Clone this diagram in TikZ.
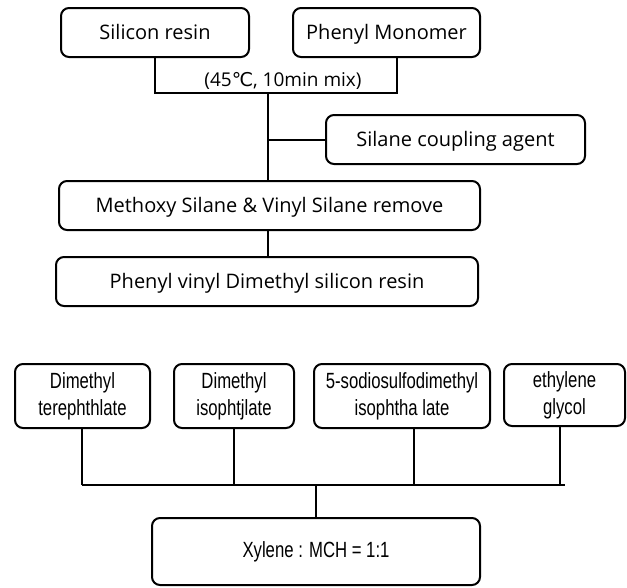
\documentclass[tikz,border=0pt]{standalone}
\usepackage{fontspec}
\setmainfont{Open Sans}
\newfontfamily\symfont{DejaVu Sans}
\newfontfamily\narrowfont[FakeStretch=0.76]{Liberation Sans}
\begin{document}
\begin{tikzpicture}[x=1pt,y=-1pt,line width=2pt,
  box/.style={draw,rounded corners=8pt,inner sep=0pt,align=center,
    text height=16pt,text depth=2pt,
    font=\fontsize{20}{24}\selectfont},
  nbox/.style={draw,rounded corners=8pt,inner sep=0pt,align=center,minimum height=64pt,
    font=\narrowfont\fontsize{22}{27}\selectfont},
  lbl/.style={inner sep=0pt,text height=16pt,text depth=2pt,font=\fontsize{19}{22}\selectfont}]
\useasboundingbox (0,0) rectangle (627,587);
% top part
\node[box,minimum width=188pt,minimum height=49pt] (sr) at (155,32.5) {Silicon resin};
\node[box,minimum width=187pt,minimum height=49pt] (pm) at (386.5,32.5) {Phenyl Monomer};
\node[box,minimum width=259pt,minimum height=49pt] (sc) at (455.5,139.5) {Silane coupling agent};
\node[box,minimum width=421pt,minimum height=49pt] (ms) at (269.5,205.5) {Methoxy Silane \& Vinyl Silane remove};
\node[box,minimum width=422pt,minimum height=49pt] (pv) at (267,281.5) {Phenyl vinyl Dimethyl silicon resin};
\node[lbl] (mix) at (283,79) {(45{\symfont ℃}, 10min mix)};
\coordinate (pmb) at (397,57);
\coordinate (j) at (268,92);
\draw (sr.south) -- ++(0,35) -| (pmb);
\draw (j) -- (j |- ms.north);
\draw (sc.west) -- (sc.west -| j);
\draw (j |- ms.south) -- (j |- pv.north);
% bottom part
\node[nbox,minimum width=135pt] (dt) at (82.5,396) {Dimethyl\\terephthlate};
\node[nbox,minimum width=120pt] (di) at (234,396) {Dimethyl\\isophtjlate};
\node[nbox,minimum width=176pt] (ss) at (402,396) {5-sodiosulfodimethyl\\isophtha late};
\node[nbox,minimum width=121pt,minimum height=62pt] (eg) at (564.5,395) {ethylene\\glycol};
\node[nbox,minimum width=328pt,minimum height=67pt] (xy) at (316,551.5) {Xylene : MCH = 1:1};
\coordinate (b1) at (82,485);
\coordinate (b2) at (234,485);
\coordinate (b3) at (414,485);
\coordinate (b4) at (560,485);
\coordinate (bend) at (565,485);
\coordinate (bc) at (316,485);
\draw (b1) -- (b1 |- dt.south);
\draw (b2) -- (b2 |- di.south);
\draw (b3) -- (b3 |- ss.south);
\draw (b4) -- (b4 |- eg.south);
\draw (b1) -- (bend);
\draw (bc) -- (xy.north);
\end{tikzpicture}
\end{document}
